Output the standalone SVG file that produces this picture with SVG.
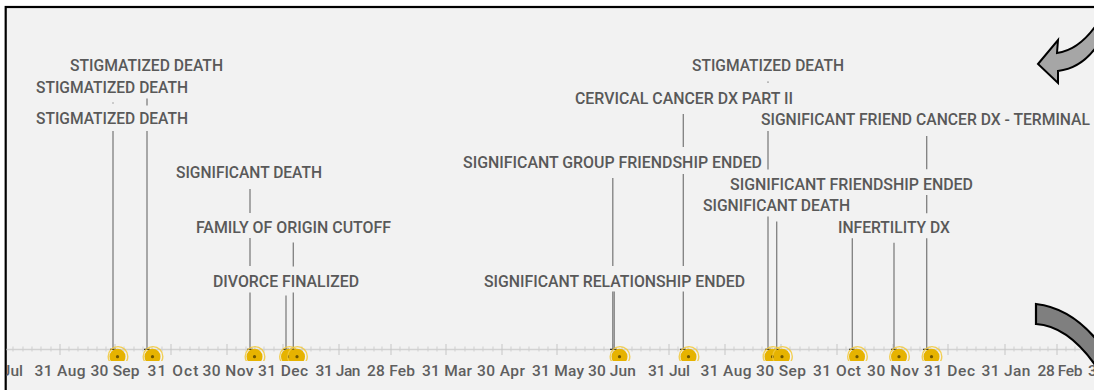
<svg xmlns="http://www.w3.org/2000/svg" width="1094" height="390" viewBox="0 0 1094 390">
<style>
.lbl{font-family:Roboto,"Liberation Sans",Arial,sans-serif;font-weight:500;font-size:16px;fill:#595959}
.ax{font-family:Roboto,"Liberation Sans",Arial,sans-serif;font-weight:500;font-size:15.5px;fill:#5f5f5f;text-anchor:middle}
.ld{stroke:#7f7f7f;stroke-width:1.3;fill:none}
.end{stroke:#333;stroke-width:1.2}
.maj{stroke:#c6c6c6;stroke-width:1}
.min{stroke:#cfcfcf;stroke-width:1}
.mk{fill:#e6b300}
.ring{fill:none;stroke:#f2c93a;stroke-width:1.4;opacity:.85}
.core{fill:#6e5600}
</style>
<defs>
<clipPath id="plot"><rect x="6.5" y="8" width="1090" height="353"/></clipPath>
<clipPath id="frame"><rect x="6.5" y="8" width="1090" height="390"/></clipPath>
<g id="m"><circle class="mk" r="8"/><circle class="ring" r="9.8" cx="0.5" cy="-0.3"/><circle class="core" r="1.6"/></g>
</defs>
<rect width="1094" height="390" fill="#fff"/>
<rect x="5.7" y="7" width="1100" height="400" fill="#f2f2f2" stroke="#000" stroke-width="2.2"/>

<g id="axis" clip-path="url(#frame)">
<line x1="6" y1="349.5" x2="1094" y2="349.5" stroke="#d2d2d2" stroke-width="1.5"/>
<g class="maj">
<path d="M4,344V355M60,344V355M115,344V355M171,344V355M227,344V355M283,344V355M339,344V355M391,344V355M446,344V355M502,344V355M557,344V355M613,344V355M669,344V355M725,344V355M781,344V355M837,344V355M893,344V355M948,344V355M1005,344V355M1057,344V355"/>
</g>
<g class="min">
<path d="M13,346.5V351.5M23,346.5V351.5M32,346.5V351.5M41,346.5V351.5M51,346.5V351.5M69,346.5V351.5M78,346.5V351.5M88,346.5V351.5M97,346.5V351.5M106,346.5V351.5M124,346.5V351.5M134,346.5V351.5M143,346.5V351.5M152,346.5V351.5M162,346.5V351.5M180,346.5V351.5M190,346.5V351.5M199,346.5V351.5M208,346.5V351.5M218,346.5V351.5M236,346.5V351.5M246,346.5V351.5M255,346.5V351.5M264,346.5V351.5M274,346.5V351.5M292,346.5V351.5M302,346.5V351.5M311,346.5V351.5M320,346.5V351.5M330,346.5V351.5M348,346.5V351.5M356,346.5V351.5M365,346.5V351.5M374,346.5V351.5M382,346.5V351.5M400,346.5V351.5M409,346.5V351.5M418,346.5V351.5M428,346.5V351.5M437,346.5V351.5M455,346.5V351.5M465,346.5V351.5M474,346.5V351.5M483,346.5V351.5M493,346.5V351.5M511,346.5V351.5M520,346.5V351.5M529,346.5V351.5M539,346.5V351.5M548,346.5V351.5M566,346.5V351.5M576,346.5V351.5M585,346.5V351.5M594,346.5V351.5M604,346.5V351.5M622,346.5V351.5M632,346.5V351.5M641,346.5V351.5M650,346.5V351.5M660,346.5V351.5M678,346.5V351.5M688,346.5V351.5M697,346.5V351.5M706,346.5V351.5M716,346.5V351.5M734,346.5V351.5M744,346.5V351.5M753,346.5V351.5M762,346.5V351.5M772,346.5V351.5M790,346.5V351.5M800,346.5V351.5M809,346.5V351.5M818,346.5V351.5M828,346.5V351.5M846,346.5V351.5M856,346.5V351.5M865,346.5V351.5M874,346.5V351.5M884,346.5V351.5M902,346.5V351.5M911,346.5V351.5M920,346.5V351.5M930,346.5V351.5M939,346.5V351.5M957,346.5V351.5M967,346.5V351.5M976,346.5V351.5M986,346.5V351.5M995,346.5V351.5M1014,346.5V351.5M1022,346.5V351.5M1031,346.5V351.5M1040,346.5V351.5M1048,346.5V351.5M1066,346.5V351.5M1075,346.5V351.5M1084,346.5V351.5"/>
</g>
<text class="ax" x="23" y="376" style="text-anchor:end">Jul</text>
<text class="ax" x="60" y="376" textLength="51">31 Aug</text>
<text class="ax" x="115" y="376" textLength="49">30 Sep</text>
<text class="ax" x="173" y="376" textLength="51">31 Oct</text>
<text class="ax" x="228" y="376" textLength="51">30 Nov</text>
<text class="ax" x="283" y="376" textLength="50">31 Dec</text>
<text class="ax" x="338" y="376" textLength="45">31 Jan</text>
<text class="ax" x="391" y="376" textLength="48">28 Feb</text>
<text class="ax" x="447" y="376" textLength="50">31 Mar</text>
<text class="ax" x="501" y="376" textLength="48">30 Apr</text>
<text class="ax" x="558" y="376" textLength="52">31 May</text>
<text class="ax" x="612" y="376" textLength="48">30 Jun</text>
<text class="ax" x="669" y="376" textLength="42">31 Jul</text>
<text class="ax" x="726" y="376" textLength="51">31 Aug</text>
<text class="ax" x="781" y="376" textLength="50">30 Sep</text>
<text class="ax" x="837" y="376" textLength="48">31 Oct</text>
<text class="ax" x="893" y="376" textLength="52">30 Nov</text>
<text class="ax" x="949.5" y="376" textLength="51">31 Dec</text>
<text class="ax" x="1006" y="376" textLength="49">31 Jan</text>
<text class="ax" x="1060" y="376" textLength="45">28 Feb</text>
<text class="ax" x="1088" y="376" style="text-anchor:start">3</text>
</g>

<g id="connectors">
<path class="ld" d="M113,102.5V103.6M113,131V349"/>
<path class="ld" d="M147,98.5V105.5M147,131V349"/>
<path class="ld" d="M250,189V213M250,238V266M250,292.5V349"/>
<path class="ld" d="M293.3,242.5V266.5M293.3,292.5V349"/>
<path class="ld" d="M286,295.5V349"/>
<path class="ld" d="M612.8,178V266M612.8,291.5V349"/>
<path class="ld" d="M614.2,291.5V349"/>
<path class="ld" d="M683.3,114V147M683.3,174V266M683.3,291.5V349"/>
<path class="ld" d="M768,81.5V82.7M768,131V169.5M768,216.5V349"/>
<path class="ld" d="M776.7,221.5V349"/>
<path class="ld" d="M852.3,238.3V349"/>
<path class="ld" d="M894,242.7V349"/>
<path class="ld" d="M926.7,136V169.3M926.7,195V213.3M926.7,238.3V349"/>
<path class="end" d="M110,349.3H116M144,349.3H150M247,349.3H253M283,349.3H289M290,349.3H296M610,349.3H617M680,349.3H686M765,349.3H771M774,349.3H780M849,349.3H855M891,349.3H897M923,349.3H929"/>
</g>

<g id="markers" clip-path="url(#plot)">
<use href="#m" x="117.5" y="356.7"/>
<use href="#m" x="152.5" y="356.7"/>
<use href="#m" x="254.5" y="356.7"/>
<use href="#m" x="289" y="356.7"/>
<use href="#m" x="297" y="356.7"/>
<use href="#m" x="619.5" y="356.7"/>
<use href="#m" x="688.5" y="356.7"/>
<use href="#m" x="772.5" y="356.7"/>
<use href="#m" x="782" y="356.7"/>
<use href="#m" x="857" y="356.7"/>
<use href="#m" x="899" y="356.7"/>
<use href="#m" x="931.5" y="356.7"/>
</g>

<g id="ev-stig-1"><text class="lbl" x="70" y="71" textLength="153" lengthAdjust="spacingAndGlyphs">STIGMATIZED DEATH</text></g>
<g id="ev-stig-2"><text class="lbl" x="36" y="93" textLength="152" lengthAdjust="spacingAndGlyphs">STIGMATIZED DEATH</text></g>
<g id="ev-stig-3"><text class="lbl" x="36" y="124" textLength="152" lengthAdjust="spacingAndGlyphs">STIGMATIZED DEATH</text></g>
<g id="ev-sigdeath-1"><text class="lbl" x="176" y="178" textLength="146" lengthAdjust="spacingAndGlyphs">SIGNIFICANT DEATH</text></g>
<g id="ev-family"><text class="lbl" x="196" y="233" textLength="195" lengthAdjust="spacingAndGlyphs">FAMILY OF ORIGIN CUTOFF</text></g>
<g id="ev-divorce"><text class="lbl" x="213" y="286.5" textLength="146" lengthAdjust="spacingAndGlyphs">DIVORCE FINALIZED</text></g>
<g id="ev-stig-4"><text class="lbl" x="692" y="71" textLength="152" lengthAdjust="spacingAndGlyphs">STIGMATIZED DEATH</text></g>
<g id="ev-cervical"><text class="lbl" x="575" y="104" textLength="218" lengthAdjust="spacingAndGlyphs">CERVICAL CANCER DX PART II</text></g>
<g id="ev-friend-cancer"><text class="lbl" x="761" y="125" textLength="329" lengthAdjust="spacingAndGlyphs">SIGNIFICANT FRIEND CANCER DX - TERMINAL</text></g>
<g id="ev-group"><text class="lbl" x="463" y="168" textLength="299" lengthAdjust="spacingAndGlyphs">SIGNIFICANT GROUP FRIENDSHIP ENDED</text></g>
<g id="ev-friendship"><text class="lbl" x="730" y="190" textLength="243" lengthAdjust="spacingAndGlyphs">SIGNIFICANT FRIENDSHIP ENDED</text></g>
<g id="ev-sigdeath-2"><text class="lbl" x="703" y="210.5" textLength="147" lengthAdjust="spacingAndGlyphs">SIGNIFICANT DEATH</text></g>
<g id="ev-infertility"><text class="lbl" x="838" y="233" textLength="112" lengthAdjust="spacingAndGlyphs">INFERTILITY DX</text></g>
<g id="ev-relationship"><text class="lbl" x="484" y="286.5" textLength="261" lengthAdjust="spacingAndGlyphs">SIGNIFICANT RELATIONSHIP ENDED</text></g>

<g id="arrow-top"><path d="M1097,24 C1086,40 1072,51 1057,53 L1058,40 L1038,64 L1058,83 L1058,71 C1076,69 1090,57 1099,43 Z" fill="#a6a6a6" stroke="#000" stroke-width="2" stroke-linejoin="miter"/></g>
<g id="arrow-bottom"><path d="M1036,304 Q1072,308 1100,344 L1100,372 Q1070,326 1036,324 Z" fill="#7f7f7f" stroke="#000" stroke-width="2.2"/></g>
</svg>
